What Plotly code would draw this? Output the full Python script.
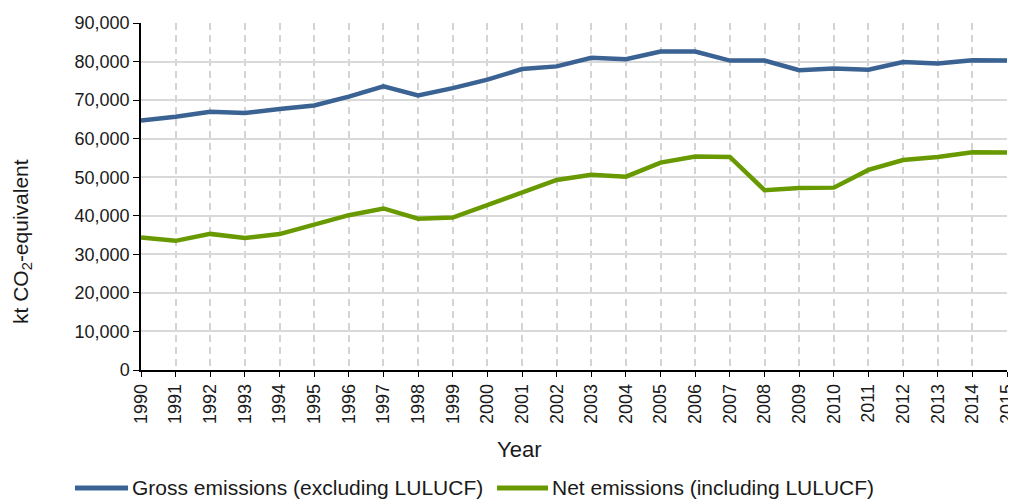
import plotly.graph_objects as go

years = list(range(1990, 2016))
gross = [64700, 65700, 67000, 66650, 67700, 68600, 70900, 73550, 71200, 73100,
         75300, 78050, 78750, 81000, 80600, 82600, 82600, 80250, 80250, 77750,
         78200, 77900, 79900, 79500, 80350, 80250]
net = [34400, 33500, 35300, 34250, 35250, 37650, 40150, 41900, 39250, 39550,
       42850, 46200, 49300, 50650, 50150, 53800, 55350, 55250, 46650, 47200,
       47300, 51900, 54450, 55250, 56450, 56400]
series_names = ["Gross emissions (excluding LULUCF)", "Net emissions (including LULUCF)"]
colors = ["#3A6293", "#689A00"]
y_ticks = list(range(0, 90001, 10000))

FONT = "Liberation Sans, Arial, sans-serif"
TXT = "#1a1a1a"

fig = go.Figure()
for name, vals, col in zip(series_names, [gross, net], colors):
    fig.add_trace(go.Scatter(x=years, y=vals, mode="lines", name=name,
                             line=dict(color=col, width=4.5)))

# legend drawn manually (long key lines as in the reference)
legend_pos = [(-0.0762, -0.0150, -0.0127), (0.4111, 0.4700, 0.4723)]
shapes = []
annotations = []
for (x0, x1, xt), name, col in zip(legend_pos, series_names, colors):
    shapes.append(dict(type="line", xref="paper", yref="paper", x0=x0, x1=x1,
                       y0=-0.340, y1=-0.340, line=dict(color=col, width=5)))
    annotations.append(dict(text=name, xref="paper", yref="paper", x=xt, y=-0.340,
                            xanchor="left", yanchor="middle", showarrow=False,
                            font=dict(size=21, family=FONT, color=TXT)))

annotations += [
    dict(text="Year", xref="paper", yref="paper", x=0.4365, y=-0.2305,
         xanchor="center", yanchor="middle", showarrow=False,
         font=dict(size=22, family=FONT, color=TXT)),
    dict(text="kt CO<sub>2</sub>-equivalent", xref="paper", yref="paper",
         x=-0.1374, y=0.369, xanchor="center", yanchor="middle",
         textangle=-90, showarrow=False,
         font=dict(size=21, family=FONT, color=TXT)),
]

# page body has an 8px default margin, so the figure is 8px smaller
fig.update_layout(
    width=1008, height=491,
    margin=dict(l=133, r=9, t=15, b=129),
    paper_bgcolor="white", plot_bgcolor="white",
    font=dict(family=FONT, size=18, color=TXT),
    showlegend=False,
    xaxis=dict(range=[1990, 2015], tickmode="array", tickvals=years,
               ticktext=[str(y) for y in years], tickangle=-90,
               ticklabeloverflow="allow",
               showgrid=True, gridcolor="#D4D4D4", griddash="7px,5px", gridwidth=1.5,
               showline=True, linecolor="black", linewidth=1.5,
               ticks="outside", ticklen=5, tickcolor="black",
               tickfont=dict(size=18), zeroline=False, automargin=False),
    yaxis=dict(range=[0, 90000], tickmode="array", tickvals=y_ticks,
               ticktext=[f"{v:,}" for v in y_ticks],
               showgrid=True, gridcolor="#D9D9D9", gridwidth=1.5,
               showline=True, linecolor="black", linewidth=1.5,
               ticks="outside", ticklen=6, tickcolor="black",
               tickfont=dict(size=18), zeroline=False, automargin=False),
    shapes=shapes,
    annotations=annotations,
)

fig.write_html("out.html")
